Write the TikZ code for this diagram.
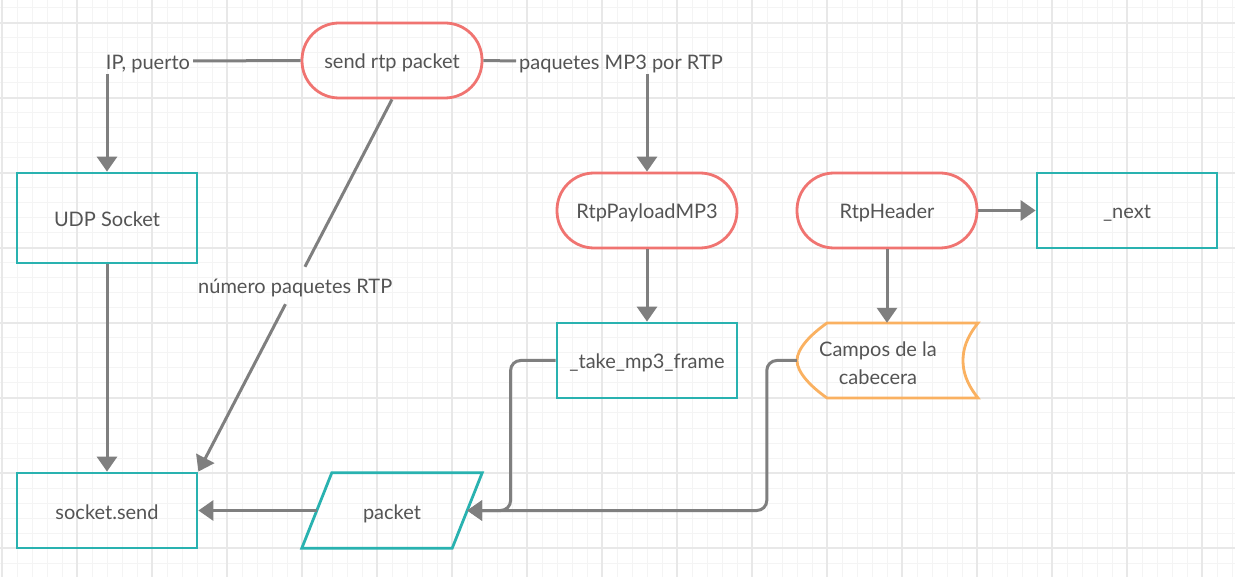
\documentclass[tikz,border=0pt]{standalone}
\usepackage{fontspec}
\setmainfont{Lato}
\usetikzlibrary{arrows.meta,calc}
\definecolor{redc}{HTML}{F07471}
\definecolor{tealc}{HTML}{29B2B0}
\definecolor{orangec}{HTML}{FAB161}
\definecolor{connc}{HTML}{7F7F7F}
\definecolor{txtc}{HTML}{545454}
\definecolor{gridmaj}{HTML}{E8E8E8}
\definecolor{gridmin}{HTML}{F4F4F4}
\begin{document}
\begin{tikzpicture}[x=1pt,y=-1pt,
  lbl/.style={font=\fontsize{20}{28}\selectfont, text=txtc},
  one/.style={text height=18pt, text depth=1pt},
  box/.style={lbl, one, draw=tealc, line width=2.8pt, minimum width=180pt, minimum height=75pt, inner sep=0pt},
  pill/.style={lbl, one, draw=redc, line width=2.8pt, minimum width=180pt, minimum height=75pt, inner sep=0pt, rounded corners=37pt},
  ghost/.style={lbl, one, minimum width=180pt, minimum height=75pt, inner sep=0pt},
  freelbl/.style={lbl, one, inner sep=3pt},
  conn/.style={draw=connc, line width=3pt},
  arr/.style={conn, -{Triangle[length=15pt,width=20pt]}},
  gmin/.style={draw=gridmin, line width=1pt},
  gmaj/.style={draw=gridmaj, line width=1.4pt}]
\useasboundingbox (0,0) rectangle (1235,577);
\fill[white] (0,0) rectangle (1235,577);
% grid
\foreach \x in {2,17,...,1232} \draw[gmin] (\x,0) -- (\x,577);
\foreach \y in {8,23,...,575} \draw[gmin] (0,\y) -- (1235,\y);
\foreach \x in {2,77,...,1232} \draw[gmaj] (\x,0) -- (\x,577);
\foreach \y in {23,98,...,575} \draw[gmaj] (0,\y) -- (1235,\y);

% nodes
\node[pill] (send) at (392,60.5) {send rtp packet};
\node[freelbl] (iplab) at (148,61) {IP, puerto};
\node[freelbl] (mp3lab) at (621,61) {paquetes MP3 por RTP};
\node[box, minimum height=90pt] (udp) at (107,218) {UDP Socket};
\node[pill] (payload) at (647,210.5) {RtpPayloadMP3};
\node[pill] (header) at (887,210.5) {RtpHeader};
\node[box] (next) at (1127,210.5) {\_next};
\node[box] (take) at (647,360.5) {\_take\_mp3\_frame};
\node[ghost] (campos) at (887,360.5) {};
\draw[orangec, line width=2.8pt] (827,323) -- (978,323)
  .. controls (966,338) and (963,350) .. (963,360.5)
  .. controls (963,371) and (966,383) .. (978,398)
  -- (827,398)
  .. controls (810,386) and (797,372) .. (797,360.5)
  .. controls (797,349) and (810,335) .. (827,323) -- cycle;
\node[lbl, align=center] (campostxt) at (878,363) {Campos de la\\cabecera};
\node[box] (sock) at (107,510.5) {socket.send};
\node[ghost, minimum width=150pt] (packet) at (392,510.5) {packet};
\draw[tealc, line width=2.8pt] ($(packet.north west)+(15,0)$) -- ($(packet.north east)+(15,0)$)
  -- ($(packet.south east)+(-15,0)$) -- ($(packet.south west)+(-15,0)$) -- cycle;
\node[freelbl, inner sep=9pt] (numlab) at ($(send.south)!0.5!(sock.north east)$) {número paquetes RTP};

% connectors
\draw[conn] (send.west) -- (iplab.east);
\draw[arr] (iplab.south -| udp.north) -- (udp.north);
\draw[conn] (send.east) -- (mp3lab.west);
\draw[arr] (mp3lab.south -| payload.north) -- (payload.north);
\draw[arr] (udp.south) -- (sock.north);
\draw[conn] (send.south) -- (numlab);
\draw[arr] (numlab) -- (sock.north east);
\draw[arr] (payload.south) -- (take.north);
\draw[arr] (header.south) -- (campos.north);
\draw[arr] (header.east) -- (next.west);
\draw[arr] (packet.west) -- (sock.east);
\draw[arr, rounded corners=10pt] (take.west) -- ++(-45,0) |- (packet.east);
\draw[arr, rounded corners=10pt] (campos.west) -- ++(-30,0) |- (packet.east);
\end{tikzpicture}
\end{document}
